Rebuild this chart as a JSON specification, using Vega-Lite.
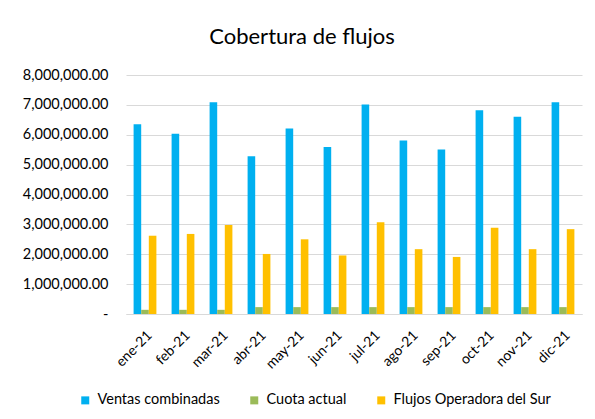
{
  "$schema": "https://vega.github.io/schema/vega-lite/v6.json",
  "width": 456,
  "height": 239,
  "autosize": "none",
  "padding": {"left": 126, "top": 75, "right": 13, "bottom": 105},
  "background": "white",
  "title": {"text": "Cobertura de flujos", "fontSize": 22, "font": "Lato", "fontWeight": "normal", "color": "#000000", "anchor": "middle", "offset": 18, "dx": -52},
  "data": {"values": [
    {"m": "ene-21", "s": "Ventas combinadas", "v": 6350000},
    {"m": "ene-21", "s": "Cuota actual", "v": 140000},
    {"m": "ene-21", "s": "Flujos Operadora del Sur", "v": 2620000},
    {"m": "feb-21", "s": "Ventas combinadas", "v": 6030000},
    {"m": "feb-21", "s": "Cuota actual", "v": 140000},
    {"m": "feb-21", "s": "Flujos Operadora del Sur", "v": 2680000},
    {"m": "mar-21", "s": "Ventas combinadas", "v": 7090000},
    {"m": "mar-21", "s": "Cuota actual", "v": 140000},
    {"m": "mar-21", "s": "Flujos Operadora del Sur", "v": 2980000},
    {"m": "abr-21", "s": "Ventas combinadas", "v": 5280000},
    {"m": "abr-21", "s": "Cuota actual", "v": 230000},
    {"m": "abr-21", "s": "Flujos Operadora del Sur", "v": 2010000},
    {"m": "may-21", "s": "Ventas combinadas", "v": 6210000},
    {"m": "may-21", "s": "Cuota actual", "v": 230000},
    {"m": "may-21", "s": "Flujos Operadora del Sur", "v": 2500000},
    {"m": "jun-21", "s": "Ventas combinadas", "v": 5590000},
    {"m": "jun-21", "s": "Cuota actual", "v": 230000},
    {"m": "jun-21", "s": "Flujos Operadora del Sur", "v": 1960000},
    {"m": "jul-21", "s": "Ventas combinadas", "v": 7010000},
    {"m": "jul-21", "s": "Cuota actual", "v": 230000},
    {"m": "jul-21", "s": "Flujos Operadora del Sur", "v": 3070000},
    {"m": "ago-21", "s": "Ventas combinadas", "v": 5810000},
    {"m": "ago-21", "s": "Cuota actual", "v": 230000},
    {"m": "ago-21", "s": "Flujos Operadora del Sur", "v": 2170000},
    {"m": "sep-21", "s": "Ventas combinadas", "v": 5510000},
    {"m": "sep-21", "s": "Cuota actual", "v": 230000},
    {"m": "sep-21", "s": "Flujos Operadora del Sur", "v": 1910000},
    {"m": "oct-21", "s": "Ventas combinadas", "v": 6820000},
    {"m": "oct-21", "s": "Cuota actual", "v": 230000},
    {"m": "oct-21", "s": "Flujos Operadora del Sur", "v": 2890000},
    {"m": "nov-21", "s": "Ventas combinadas", "v": 6600000},
    {"m": "nov-21", "s": "Cuota actual", "v": 230000},
    {"m": "nov-21", "s": "Flujos Operadora del Sur", "v": 2170000},
    {"m": "dic-21", "s": "Ventas combinadas", "v": 7090000},
    {"m": "dic-21", "s": "Cuota actual", "v": 230000},
    {"m": "dic-21", "s": "Flujos Operadora del Sur", "v": 2840000}
  ]},
  "mark": {"type": "bar"},
  "encoding": {
    "x": {
      "field": "m", "type": "nominal", "sort": null,
      "scale": {"paddingInner": 0.4, "paddingOuter": 0.2},
      "axis": {"title": null, "labelAngle": -45, "labelFont": "Lato", "labelFontSize": 14, "labelColor": "#000000", "ticks": false, "domainColor": "#d9d9d9", "labelPadding": 14}
    },
    "xOffset": {"field": "s", "type": "nominal", "sort": ["Ventas combinadas", "Cuota actual", "Flujos Operadora del Sur"]},
    "y": {
      "field": "v", "type": "quantitative",
      "scale": {"domain": [0, 8000000], "nice": false},
      "axis": {"title": null, "values": [0,1000000,2000000,3000000,4000000,5000000,6000000,7000000,8000000], "labelOverlap": false, "labelExpr": "datum.value == 0 ? '-\u00a0\u00a0\u00a0' : format(datum.value, ',.2f')", "labelFont": "Lato", "labelFontSize": 14.5, "labelColor": "#000000", "ticks": false, "domain": false, "gridColor": "#d9d9d9", "gridWidth": 1, "labelPadding": 18}
    },
    "color": {
      "field": "s", "type": "nominal",
      "sort": ["Ventas combinadas", "Cuota actual", "Flujos Operadora del Sur"],
      "scale": {"domain": ["Ventas combinadas", "Cuota actual", "Flujos Operadora del Sur"], "range": ["#00B0F0", "#9BBB59", "#FFC000"]},
      "legend": {"title": null, "orient": "none", "direction": "horizontal", "legendX": -48, "legendY": 318, "symbolType": "square", "symbolSize": 64, "symbolStrokeWidth": 0, "labelFont": "Lato", "labelFontSize": 14.5, "labelColor": "#000000", "columnPadding": 27, "labelOffset": 5}
    }
  },
  "config": {"view": {"stroke": null}}
}
